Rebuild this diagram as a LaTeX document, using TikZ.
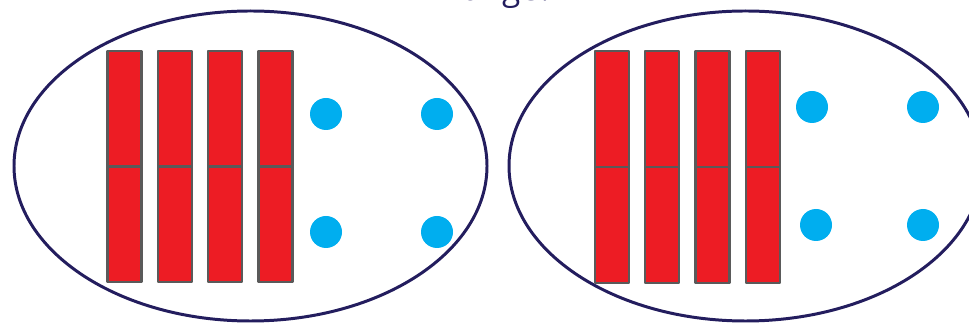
\documentclass[tikz,border=0pt]{standalone}
\usepackage{fontspec}
\setmainfont{Open Sans}
\definecolor{navy}{HTML}{231D5E}
\definecolor{barred}{HTML}{ED1C24}
\definecolor{bargray}{HTML}{5A5A5A}
\definecolor{dotblue}{HTML}{00AEEF}
\tikzset{
  group/.style={draw=navy,line width=1.7pt},
  bar/.style={fill=barred,draw=bargray,line width=1.3pt},
  dot/.style={fill=dotblue,draw=none}
}
\begin{document}
\begin{tikzpicture}[x=0.02cm,y=-0.02cm,line join=round]
	\useasboundingbox (0,0) rectangle (969,323);
	\node[anchor=base,text=navy,font=\fontsize{19}{22}\selectfont] (title) at (498,0.5) {Range?};
	% left group
	\draw[group] (250.5,166) ellipse [x radius=236.5,y radius=155];
	\foreach \x in {107.5,157.8,208.1,258.4}{
		\draw[bar] (\x,51) rectangle ++(34,115.5);
		\draw[bar] (\x,166.5) rectangle ++(34,115.5);
	}
	\foreach \x/\y in {326/114,437/114,326/232,437/232}
		\fill[dot] (\x,\y) circle (16);
	% right group
	\draw[group] (745.5,166) ellipse [x radius=236.5,y radius=155];
	\foreach \x in {595,645.3,695.6,745.9}{
		\draw[bar] (\x,51) rectangle ++(34,116);
		\draw[bar] (\x,167) rectangle ++(34,116);
	}
	\foreach \x/\y in {812/107,923/107,816/225,923/225}
		\fill[dot] (\x,\y) circle (16);
\end{tikzpicture}
\end{document}
